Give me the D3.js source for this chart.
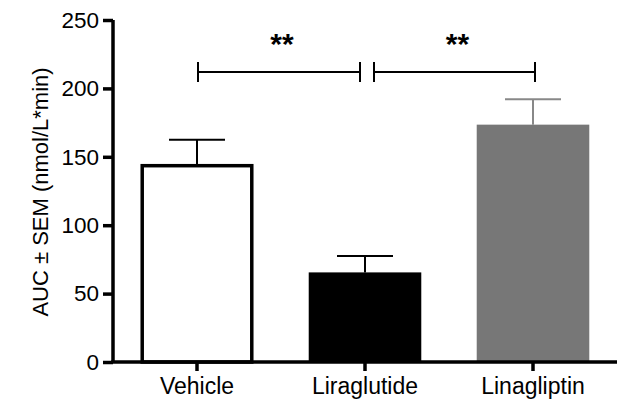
<!DOCTYPE html>
<html>
<head>
<meta charset="utf-8">
<script src="https://cdn.jsdelivr.net/npm/d3@7"></script>
<style>
  body { margin: 0; background: #fff; }
  svg { display: block; }
</style>
</head>
<body>
<svg id="chart" width="633" height="402"></svg>
<script>
const groups = ["Vehicle", "Liraglutide", "Linagliptin"];
const means = [143.5, 65.5, 173.5];
const sems = [19, 12, 18.5];
const fills = ["#ffffff", "#000000", "#777777"];
const strokes = ["#000000", "#000000", "#888888"];
const yTicks = [0, 50, 100, 150, 200, 250];
// significance pairs: [from, to, label]
const sigPairs = [[0, 1, "**"], [1, 2, "**"]];
const sigLevel = 212;

const width = 633, height = 402;
const margin = { top: 20, right: 16, bottom: 40, left: 113 };

const svg = d3.select("#chart");

const x = d3.scaleBand()
  .domain(groups)
  .range([margin.left, width - margin.right])
  .paddingInner(0.33)
  .paddingOuter(0.165);

const y = d3.scaleLinear()
  .domain([0, 250])
  .range([height - margin.bottom, margin.top]);

// bars
svg.append("g")
  .selectAll("rect")
  .data(groups)
  .join("rect")
  .attr("x", (d, i) => x(d) + (i == 0 ? 1.5 : 0))
  .attr("y", (d, i) => y(means[i]))
  .attr("width", (d, i) => x.bandwidth() - (i == 0 ? 3 : 0))
  .attr("height", (d, i) => y(0) - y(means[i]))
  .attr("fill", (d, i) => fills[i])
  .attr("stroke", (d, i) => i == 0 ? "#000" : "none")
  .attr("stroke-width", 3.5);

// error bars
const err = svg.append("g");
groups.forEach((g, i) => {
  const cx = x(g) + x.bandwidth() / 2;
  err.append("line")
    .attr("x1", cx).attr("x2", cx)
    .attr("y1", y(means[i])).attr("y2", y(means[i] + sems[i]))
    .attr("stroke", strokes[i]).attr("stroke-width", 2);
  err.append("line")
    .attr("x1", cx - 28).attr("x2", cx + 28)
    .attr("y1", y(means[i] + sems[i])).attr("y2", y(means[i] + sems[i]))
    .attr("stroke", strokes[i]).attr("stroke-width", 2);
});

// axes
svg.append("g")
  .attr("transform", `translate(${margin.left},0)`)
  .call(d3.axisLeft(y).tickValues(yTicks).tickSize(10).tickSizeOuter(0).tickPadding(4))
  .call(g => g.selectAll("path, line").attr("stroke", "#000").attr("stroke-width", 3.5))
  .call(g => g.select(".domain").attr("d", `M0,${y(250)}V${y(0)}`))
  .call(g => g.selectAll("text")
    .attr("font-family", "Liberation Sans, Arial, sans-serif")
    .attr("font-size", 22.5).attr("fill", "#000"));

svg.append("g")
  .attr("transform", `translate(0,${y(0)})`)
  .call(d3.axisBottom(x).tickSize(9).tickSizeOuter(0).tickPadding(7))
  .call(g => g.selectAll("path, line").attr("stroke", "#000").attr("stroke-width", 3.5))
  .call(g => g.select(".domain").attr("d", `M${margin.left - 1.75},0H${width - margin.right}`))
  .call(g => g.selectAll("text")
    .attr("font-family", "Liberation Sans, Arial, sans-serif")
    .attr("font-size", 23).attr("fill", "#000"));

// y title
svg.append("text")
  .attr("transform", `translate(48,192) rotate(-90)`)
  .attr("text-anchor", "middle")
  .attr("font-family", "Liberation Sans, Arial, sans-serif")
  .attr("font-size", 22)
  .text("AUC \u00b1 SEM (nmol/L*min)");

// significance brackets
const sig = svg.append("g");
sigPairs.forEach(([a, b, label], k) => {
  const x1 = x(groups[a]) + x.bandwidth() / 2 + (k == 0 ? 1 : 9);
  const x2 = x(groups[b]) + x.bandwidth() / 2 + (k == 0 ? -5 : 2);
  const yy = y(sigLevel);
  sig.append("path")
    .attr("d", `M${x1},${yy - 10}V${yy + 10}M${x1},${yy}H${x2}M${x2},${yy - 10}V${yy + 10}`)
    .attr("fill", "none")
    .attr("stroke", "#000")
    .attr("stroke-width", 2);
  sig.append("text")
    .attr("x", (x1 + x2) / 2 + 3)
    .attr("y", yy - 18)
    .attr("text-anchor", "middle")
    .attr("font-family", "Liberation Sans, Arial, sans-serif")
    .attr("font-weight", "bold")
    .attr("font-size", 30)
    .text(label);
});
</script>
</body>
</html>
